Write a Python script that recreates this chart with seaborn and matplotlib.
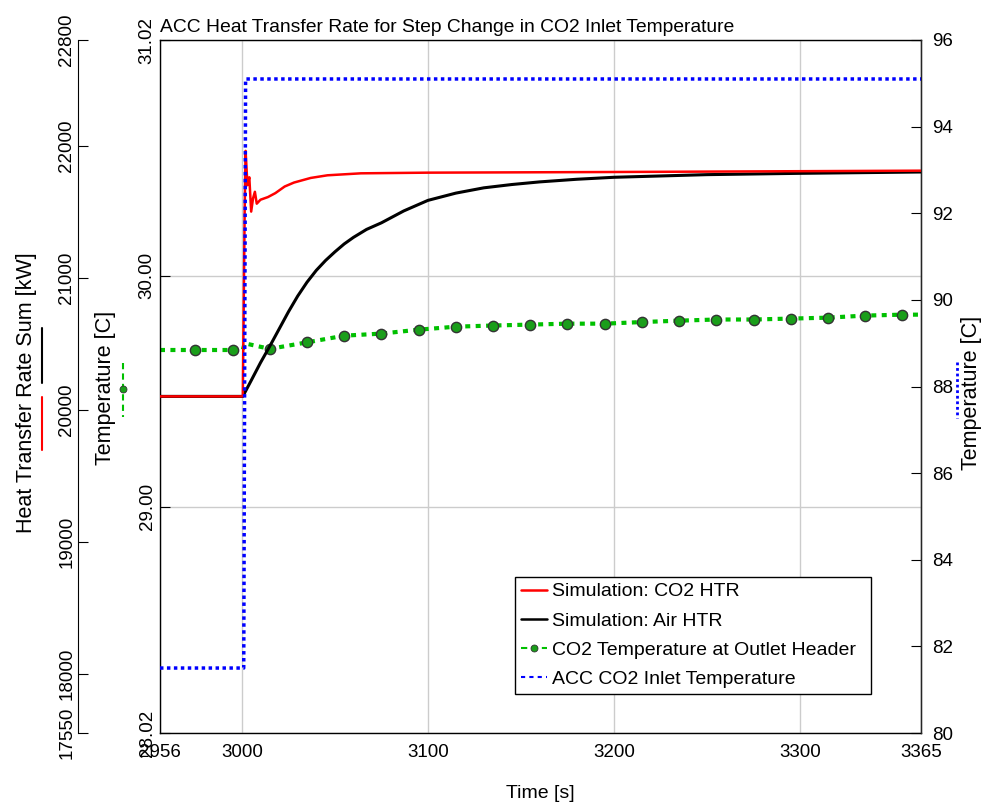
import numpy as np
import pandas as pd
import seaborn as sns
import matplotlib.pyplot as plt
from matplotlib.lines import Line2D

## Data
# heat transfer rates [kW] (outer left axis)
co2_htr_time = [2956, 3000.5, 3001.5, 3002, 3003, 3004, 3005, 3006, 3007, 3008, 3010,
                3014, 3018, 3023, 3028, 3037, 3046, 3064, 3100, 3200, 3365]
co2_htr_kw = [20100, 20100, 21500, 21960, 21700, 21760, 21500, 21600, 21650, 21560, 21590,
              21610, 21640, 21690, 21720, 21755, 21775, 21790, 21795, 21800, 21810]

air_htr_time = [2956, 3000.5, 3005, 3010, 3015, 3020, 3025, 3030, 3035, 3040, 3045, 3050,
                3055, 3060, 3067, 3075, 3087, 3100, 3115, 3130, 3145, 3160, 3180, 3200,
                3250, 3300, 3365]
air_htr_kw = [20100, 20100, 20220, 20355, 20480, 20610, 20740, 20860, 20965, 21055, 21130,
              21195, 21255, 21305, 21365, 21415, 21505, 21585, 21640, 21680, 21705, 21725,
              21745, 21760, 21780, 21790, 21800]

# CO2 temperature at outlet header [C] (inner left axis)
outlet_time = [2956, 2975, 2995, 3000.5, 3001.5, 3015, 3035, 3055, 3075, 3095, 3115, 3135,
               3155, 3175, 3195, 3215, 3235, 3255, 3275, 3295, 3315, 3335, 3355, 3365]
outlet_temp = [29.678, 29.678, 29.678, 29.678, 29.707, 29.683, 29.711, 29.740, 29.749, 29.766,
               29.779, 29.784, 29.788, 29.792, 29.792, 29.799, 29.805, 29.810, 29.810, 29.814,
               29.818, 29.827, 29.831, 29.831]
marker_time = [2975, 2995, 3015, 3035, 3055, 3075, 3095, 3115, 3135, 3155, 3175, 3195,
               3215, 3235, 3255, 3275, 3295, 3315, 3335, 3355]

# ACC CO2 inlet temperature [C] (right axis)
inlet_time = [2956, 3001, 3002, 3365]
inlet_temp = [81.5, 81.5, 95.1, 95.1]

x_ticks = [2956, 3000, 3100, 3200, 3300, 3365]
htr_ticks = [17550, 18000, 19000, 20000, 21000, 22000, 22800]
temp_ticks = [28.02, 29.00, 30.00, 31.02]
right_ticks = [80, 82, 84, 86, 88, 90, 92, 94, 96]

outlet = pd.DataFrame({'time': outlet_time, 'temp': outlet_temp})
markers = outlet[outlet.time.isin(marker_time)]

sns.set_style("white")
plt.rcParams['font.family'] = ['Liberation Sans', 'DejaVu Sans']
plt.rcParams['text.color'] = 'black'
plt.rcParams['axes.labelcolor'] = 'black'
plt.rcParams['xtick.color'] = 'black'
plt.rcParams['ytick.color'] = 'black'
FS = 13.5
LFS = 15.5

W, H = 1003, 809
fig = plt.figure(figsize=(W / 100, H / 100), dpi=100)
ax = fig.add_axes([160 / W, 1 - 733 / H, 761 / W, 693 / H])
ax_htr = ax.twinx()
ax_r = ax.twinx()

green = '#00c000'
mk_green = '#1a9e1a'
blue = '#0000ff'

## inner temperature axis (green)
sns.lineplot(data=outlet, x='time', y='temp', ax=ax, color=green, lw=3,
             linestyle=(0, (1.2, 1.3)), estimator=None, zorder=2)
sns.scatterplot(data=markers, x='time', y='temp', ax=ax, color=mk_green,
                edgecolor='#333333', linewidth=1, s=55, zorder=3)

## heat transfer axis
sns.lineplot(x=air_htr_time, y=air_htr_kw, ax=ax_htr, color='black', lw=2.2, estimator=None)
sns.lineplot(x=co2_htr_time, y=co2_htr_kw, ax=ax_htr, color='red', lw=1.8, estimator=None)

## right axis
sns.lineplot(x=inlet_time, y=inlet_temp, ax=ax_r, color=blue, lw=2.5,
             linestyle=(0, (1, 1)), estimator=None)

ax.set_xlim(2956, 3365)
ax.set_ylim(28.02, 31.02)
ax_htr.set_ylim(17550, 22800)
ax_r.set_ylim(80, 96)

ax.set_xticks(x_ticks)
ax.set_xticklabels([str(t) for t in x_ticks])
ax.set_yticks(temp_ticks)
ax.set_yticklabels(['%.2f' % t for t in temp_ticks])
ax_htr.set_yticks(htr_ticks)
ax_htr.set_yticklabels([str(t) for t in htr_ticks])
ax_r.set_yticks(right_ticks)

for a in (ax, ax_htr, ax_r):
    a.set_xlabel('')
    a.set_ylabel('')

ax.grid(True, color='#cccccc', lw=1)
ax.set_axisbelow(True)
for s in ax.spines.values():
    s.set_color('black')
    s.set_linewidth(1)

ax.tick_params(axis='x', length=0, labelsize=FS, pad=8)
ax.tick_params(axis='y', direction='in', length=7, labelsize=FS, pad=3, rotation=90)

ax_htr.yaxis.tick_left()
ax_htr.spines['left'].set_position(('axes', -82 / 761))
ax_htr.spines['left'].set_visible(True)
ax_htr.spines['left'].set_color('black')
for k in ('right', 'top', 'bottom'):
    ax_htr.spines[k].set_visible(False)
ax_htr.tick_params(axis='y', direction='in', length=7, labelsize=FS, pad=2, rotation=90)

for k in ('left', 'top', 'bottom'):
    ax_r.spines[k].set_visible(False)
ax_r.tick_params(axis='y', direction='in', length=7, labelsize=FS, pad=8)

for lab in ax.get_yticklabels() + ax_htr.get_yticklabels():
    lab.set_va('center')

ax.set_title('ACC Heat Transfer Rate for Step Change in CO2 Inlet Temperature',
             loc='left', fontsize=13.9, pad=6)
ax.set_xlabel('Time [s]', fontsize=14, labelpad=17)


def fx(px):
    return px / W


def fy(py):
    return 1 - py / H


## axis labels with their line keys
fig.text(fx(27), fy(393), 'Heat Transfer Rate Sum [kW]', rotation=90,
         ha='center', va='center', fontsize=LFS)
fig.add_artist(Line2D([fx(42)] * 2, [fy(328), fy(383)], color='black', lw=1.5))
fig.add_artist(Line2D([fx(42)] * 2, [fy(397), fy(450)], color='red', lw=1.5))

fig.text(fx(106), fy(388), 'Temperature [C]', rotation=90, ha='center', va='center', fontsize=LFS)
fig.add_artist(Line2D([fx(123)] * 2, [fy(363), fy(417)], color=green, lw=1.5,
                      linestyle=(0, (3, 2))))
fig.add_artist(Line2D([fx(123)], [fy(389)], color=mk_green, marker='o', markersize=5,
                      markeredgecolor='#333333', markeredgewidth=0.6))

fig.text(fx(972), fy(393), 'Temperature [C]', rotation=90, ha='center', va='center', fontsize=LFS)
fig.add_artist(Line2D([fx(957)] * 2, [fy(362), fy(418)], color=blue, lw=2,
                      linestyle=(0, (1, 1))))

## legend
handles = [
    Line2D([], [], color='red', lw=1.8),
    Line2D([], [], color='black', lw=1.8),
    Line2D([], [], color=green, lw=1.5, linestyle=(0, (3, 2)), marker='o', markersize=5,
           markerfacecolor=mk_green, markeredgecolor='#333333', markeredgewidth=0.6),
    Line2D([], [], color=blue, lw=1.5, linestyle=(0, (2, 2))),
]
labels = ['Simulation: CO2 HTR', 'Simulation: Air HTR',
          'CO2 Temperature at Outlet Header', 'ACC CO2 Inlet Temperature']
leg = ax_r.legend(handles, labels, loc='lower left',
                  bbox_to_anchor=((515 - 160) / 761, 39 / 693, 356 / 761, 0.2), mode='expand',
                  fontsize=14, frameon=True, fancybox=False, edgecolor='black', framealpha=1,
                  borderpad=0.3, handlelength=1.35, handletextpad=0.25, labelspacing=0.6,
                  borderaxespad=0)
leg.get_frame().set_linewidth(1)

fig.savefig('out.png', dpi=100)
